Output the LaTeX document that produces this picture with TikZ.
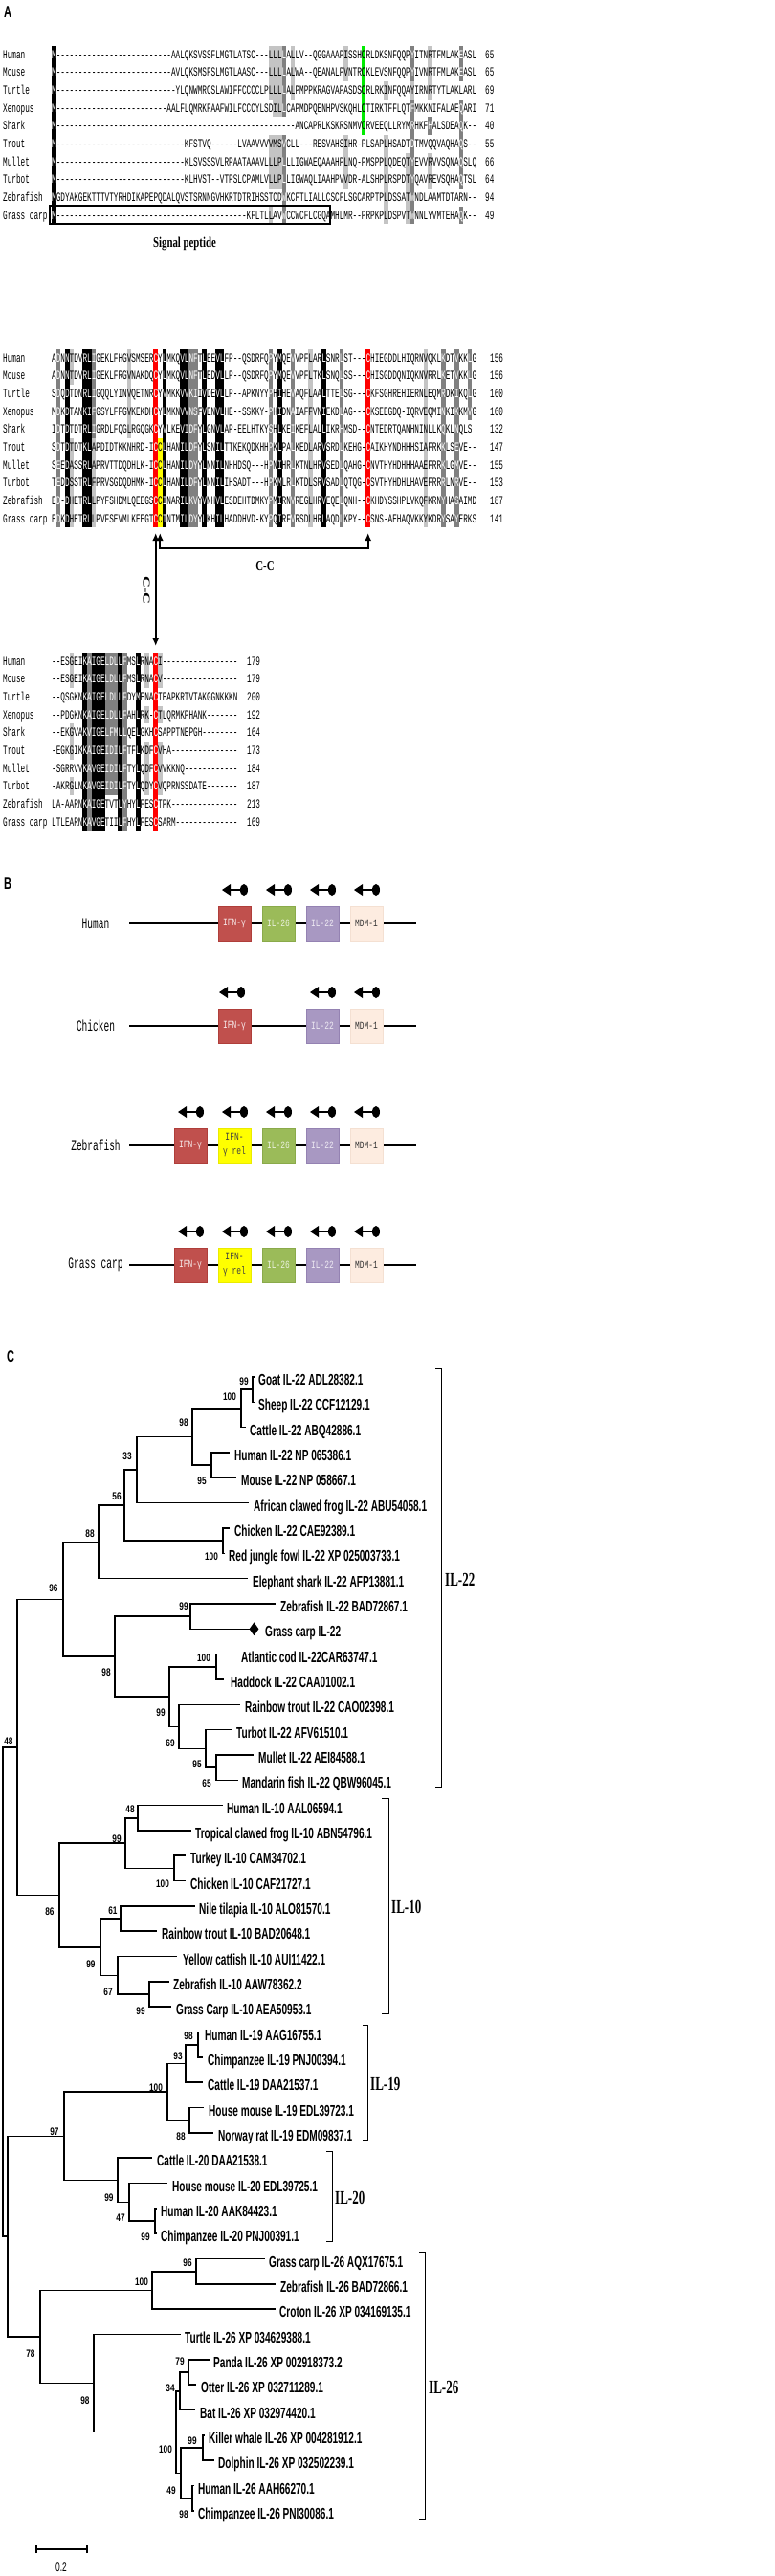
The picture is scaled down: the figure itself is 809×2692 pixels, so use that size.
\documentclass[tikz,border=0pt]{standalone}
\usepackage{fontspec}
\setmainfont{Liberation Serif}
\setsansfont{Liberation Sans}
\setmonofont{Liberation Mono}
\usepackage{graphicx}
\usetikzlibrary{arrows.meta,shapes.geometric}
\definecolor{dg}{RGB}{128,128,128}
\definecolor{lg}{RGB}{196,196,196}
\definecolor{ifnc}{RGB}{192,80,77}
\definecolor{ifnb}{RGB}{175,62,58}
\definecolor{ilsixc}{RGB}{155,187,89}
\definecolor{ilsixb}{RGB}{138,170,74}
\definecolor{iltwoc}{RGB}{168,152,194}
\definecolor{iltwob}{RGB}{148,130,178}
\definecolor{mdmc}{RGB}{253,236,224}
\definecolor{mdmb}{RGB}{244,224,210}
\definecolor{relc}{RGB}{255,255,0}
\definecolor{relb}{RGB}{235,235,0}
\definecolor{cred}{RGB}{255,0,0}
\definecolor{cgreen}{RGB}{0,235,0}
\ExplSyntaxOn
\cs_new:Npn \dd #1 { \prg_replicate:nn {#1} {-} }
\ExplSyntaxOff
\newcommand\sqz[2]{\scalebox{#1}[1]{#2}}
\def\yA{57}\def\yB{374}\def\yC{691}
\def\defrow#1#2#3{\expandafter\def\csname r#1#2\endcsname{#3}}
\newcommand\seqtxt[2]{\sqz{0.593}{\csname r#1#2\endcsname}}
% block A
\defrow{A}{1}{M\dd{26}AALQKSVSSFLMGTLATSC\dd{3}LLLLALLV\dd{2}QGGAAAPISSHCRLDKSNFQQPYITNRTFMLAKEASL}
\defrow{A}{2}{M\dd{26}AVLQKSMSFSLMGTLAASC\dd{3}LLLLALWA\dd{2}QEANALPVNTRCKLEVSNFQQPYIVNRTFMLAKEASL}
\defrow{A}{3}{M\dd{27}YLQNWMRCSLAWIFFCCCCLPLLLLALPMPPKRAGVAPASDSCRLRKINFQQAYIRNRTYTLAKLARL}
\defrow{A}{4}{M\dd{25}AALFLQMRKFAAFWILFCCCYLSDILLCAPMDPQENHPVSKQHLCTIRKTFFLQTFMKKNIFALAEQARI}
\defrow{A}{5}{M\dd{54}ANCAPRLKSKRSNMVCRVEEQLLRYMRHKFHALSDEAQK\dd{2}}
\defrow{A}{6}{M\dd{29}KFSTVQ\dd{6}LVAAVVVVMSVCLL\dd{3}RESVAHSIHR-PLSAPLHSADTDTMVQQVAQHAQS\dd{2}}
\defrow{A}{7}{M\dd{29}KLSVSSSVLRPAATAAAVLLLPLLLIGWAEQAAAHPLNQ-PMSPPLQDEQTYEVVRVVSQNAQSLQ}
\defrow{A}{8}{M\dd{29}KLHVST\dd{2}VTPSLCPAMLVLLPLLIGWAQLIAAHPVVDR-ALSHPLRSPDTYQAVREVSQHAQTSL}
\defrow{A}{9}{MGDYAKGEKTTTVTYRHDIKAPEPQDALQVSTSRNNGVHKRTDTRIHSSTCDWKCFTLIALLCSCFLSGCARPTPLDSSATWNDLAAMTDTARN\dd{2}}
\defrow{A}{10}{M\dd{43}KFLTLLAVWCCWCFLCGQAMHLMR\dd{2}PRPKPLDSPVTWNNLYVMTEHAQK\dd{2}}
% block B
\defrow{B}{1}{ADNNTDVRLIGEKLFHGVSMSERCYLMKQVLNFTLEEVLFP\dd{2}QSDRFQPYMQEVVPFLARLSNRLST\dd{3}CHIEGDDLHIQRNVQKLKDTVKKLG}
\defrow{B}{2}{ADNNTDVRLIGEKLFRGVNAKDQCYLMKQVLNFTLEDVLLP\dd{2}QSDRFQPYMQEVVPFLTKLSNQLSS\dd{3}CHISGDDQNIQKNVRRLKETVKKLG}
\defrow{B}{3}{SDQDTDNRLIGQQLYINVQETNRCYVMKKVVKIIVDEVLLP\dd{2}APKNYYPHIHEVAQFLAALTTELSG\dd{3}CKFSGHREHIERNLEQMRDKIKQLG}
\defrow{B}{4}{MDKDTANKIFGSYLFFGVKEKDHCYLMKNVVNSFVENVLHE\dd{2}SSKKY-PHIDNAIAFFVNIEKDLAG\dd{3}CKSEEGDQ-IQRVEQMINKIKKMVG}
\defrow{B}{5}{IDTDTDTRLIGRDLFQGLRGQGKCYVLKEVIDFYLGNVLAP-EELHTKYSHLKEIKEFLALLIKRHMSD\dd{2}CNTEDRTQANHNINLLKQKLNQLS}
\defrow{B}{6}{SDTDTDTKLAPDIDTKKNHRD-ICCLHANILDFYLSNILTTKEKQDKHHPKLPALKEDLARVSRDLKEHG-CAIKHYNDHHHSIAFRKKLSEVE\dd{2}}
\defrow{B}{7}{SEEDASSRLAPRVTTDQDHLK-ICCLHANILDYYLNNILNHHDSQ\dd{3}HPNIHRLKTNLHRVSEDLQAHG-CNVTHYHDHHHAAEFRRKLGMVE\dd{2}}
\defrow{B}{8}{TEDDSSTRLFPRVSGDQDHMK-ICCLHANILDFYLNNILIHSADT\dd{3}HPKMLRLKTDLSRVSADLQTQG-CSVTHYHDHLHAVEFRRRLNRVE\dd{2}}
\defrow{B}{9}{ED-DHETRLLPYFSHDMLQEEGSCCINARILKVYVNHVLESDEHTDMKYPMIRNVREGLHRVEQELQNH\dd{2}CKHDYSSHPLVKQFKRNYHASAIMD}
\defrow{B}{10}{EDKDHETRLLPVFSEVMLKEEGTCCINTMILDYYLKHILHADDHVD-KYPQIRFVRSDLHRLAQDLKPY\dd{2}CSNS-AEHAQVKKYKDRYSAYERKS}
% block C
\defrow{C}{1}{\dd{2}ESGEIKAIGELDLLFMSLRNACI\dd{17}}
\defrow{C}{2}{\dd{2}ESGEIKAIGELDLLFMSLRNACV\dd{17}}
\defrow{C}{3}{\dd{2}QSGKNKAIGELDLLFDYMENACTEAPKRTVTAKGGNKKKN}
\defrow{C}{4}{\dd{2}PDGKNKAIGELDLLFAHLRK-CTLQRMKPHANK\dd{7}}
\defrow{C}{5}{\dd{2}EKGVAKVIGELFMLLQELGKHCSAPPTNEPGH\dd{8}}
\defrow{C}{6}{-EGKGIKKAIGEIDILFTFLKDFCVHA\dd{15}}
\defrow{C}{7}{-SGRRVVKAVGEIDILFTYLQDFCVVKKNQ\dd{12}}
\defrow{C}{8}{-AKRGLNKAVGEIDILFTYLQDYCVQPRNSSDATE\dd{7}}
\defrow{C}{9}{LA-AARNKAIGETVTLYHYLFESCTPK\dd{15}}
\defrow{C}{10}{LTLEARNKAVGETIILFHYLFESCSARM\dd{14}}
% shading cell block: block, c1, c2, r1, r2, fill, text colour
\newcommand\shc[7]{%
  \pgfmathsetmacro\shya{\csname y#1\endcsname+(#4-1)*18.66-9.33}%
  \pgfmathsetmacro\shyb{\csname y#1\endcsname+(#5-1)*18.66+9.33}%
  \pgfmathsetmacro\shxa{54+4.625*#2}%
  \pgfmathsetmacro\shxb{54+4.625*(#3+1)}%
  \fill[#6] (\shxa,\shya) rectangle (\shxb,\shyb);
  \begin{scope}
    \clip (\shxa,\shya) rectangle (\shxb,\shyb);
    \foreach \rr in {#4,...,#5}{\node[seq,text=#7] at (54,{\csname y#1\endcsname+(\rr-1)*18.66+4.3}) {\seqtxt{#1}{\rr}};}
  \end{scope}}
\newcommand\leaf[4]{\coordinate (l#1) at (#2,{1439+26.33*(#1-1)});
  \node[leaf] (t#1) at (#3,{1439+26.33*(#1-1)+8.5}) {\sqz{0.63}{#4}};}
\newcommand\edge[2]{\draw[tree] (#1) |- (#2);}
\newcommand\boot[4]{\node[boot] (#1) at (#2,#3) {\sqz{0.75}{#4}};}
\begin{document}
\begin{tikzpicture}[x=1pt,y=-1pt,
  seq/.style={anchor=base west,inner sep=0pt,font=\ttfamily\fontsize{13}{13}\selectfont},
  leaf/.style={anchor=base west,inner sep=0pt,font=\sffamily\bfseries\fontsize{16}{16}\selectfont},
  boot/.style={inner sep=0pt,font=\sffamily\bfseries\fontsize{11}{11}\selectfont},
  tree/.style={line width=1.6pt,line cap=rect},
  brk/.style={line width=0.9pt},
  clade/.style={anchor=west,inner sep=0pt,font=\rmfamily\bfseries\fontsize{20}{20}\selectfont},
  plet/.style={inner sep=0pt,font=\sffamily\bfseries\fontsize{17}{17}\selectfont},
  glab/.style={inner sep=0pt,font=\ttfamily\fontsize{16}{16}\selectfont},
  gbox/.style={minimum width=34pt,minimum height=36pt,inner sep=0pt,line width=0.8pt,font=\ttfamily\fontsize{11}{15}\selectfont,align=center},
  gline/.style={line width=1.5pt},
  ccarr/.style={line width=1.8pt,{Latex[length=8pt,width=7pt]}-{Latex[length=8pt,width=7pt]}},
  orient/.pic={\fill (-13,0) -- (-4,-6) -- (-4,6) -- cycle;
    \draw[line width=2pt] (-5,0) -- (7,0);
    \fill (10,0) ellipse [x radius=4,y radius=6];}]
\useasboundingbox (0,0) rectangle (809,2692);
\fill[white] (0,0) rectangle (809,2692);
% ---------------- Panel A ----------------
\node[plet] (pA) at (8,13) {\sqz{0.65}{A}};
\foreach \b/\y in {A/57,B/374,C/691}{
  \foreach \rr in {1,...,10}{
    \node[seq] (row\b\rr) at (54,{\y+(\rr-1)*18.66+4.3}) {\seqtxt{\b}{\rr}};}
  \foreach \nm [count=\rr] in {Human,Mouse,Turtle,Xenopus,Shark,Trout,Mullet,Turbot,Zebrafish,Grass carp}{
    \node[seq] (nm\b\rr) at (3,{\y+(\rr-1)*18.66+4.3}) {\sqz{0.593}{\nm}};}
}
\foreach \n [count=\rr] in {65,65,69,71,40,55,66,64,94,49}
  \node[seq] (numA\rr) at (507,{57+(\rr-1)*18.66+4.3}) {\sqz{0.593}{\n}};
\foreach \n [count=\rr] in {156,156,160,160,132,147,155,153,187,141}
  \node[seq] (numB\rr) at (512,{374+(\rr-1)*18.66+4.3}) {\sqz{0.593}{\n}};
\foreach \n [count=\rr] in {179,179,200,192,164,173,184,187,213,169}
  \node[seq] (numC\rr) at (258,{691+(\rr-1)*18.66+4.3}) {\sqz{0.593}{\n}};
% shading block A
\shc{A}{0}{0}{1}{10}{black}{white}
\shc{A}{49}{51}{1}{3}{lg}{black}
\shc{A}{50}{51}{4}{4}{lg}{black}
\shc{A}{49}{51}{6}{8}{lg}{black}
\shc{A}{49}{49}{10}{10}{lg}{black}
\shc{A}{52}{52}{1}{4}{dg}{white}
\shc{A}{52}{52}{6}{10}{dg}{white}
\shc{A}{54}{54}{1}{3}{lg}{black}
\shc{A}{66}{66}{1}{2}{lg}{black}
\shc{A}{66}{66}{6}{8}{lg}{black}
\shc{A}{70}{70}{1}{5}{cgreen}{black}
\shc{A}{75}{75}{3}{3}{lg}{black}
\shc{A}{75}{75}{6}{10}{lg}{black}
\shc{A}{80}{80}{7}{10}{lg}{black}
\shc{A}{81}{81}{1}{2}{dg}{white}
\shc{A}{81}{81}{3}{3}{lg}{black}
\shc{A}{81}{81}{4}{10}{dg}{white}
\shc{A}{85}{85}{1}{3}{lg}{black}
\shc{A}{85}{85}{5}{5}{dg}{white}
\shc{A}{85}{85}{7}{8}{lg}{black}
\shc{A}{92}{92}{1}{2}{dg}{white}
\shc{A}{92}{92}{4}{8}{dg}{white}
\shc{A}{92}{92}{10}{10}{dg}{white}
% shading block B
\shc{B}{1}{1}{1}{10}{dg}{white}
\shc{B}{3}{3}{1}{10}{black}{white}
\shc{B}{4}{4}{1}{2}{lg}{black}
\shc{B}{4}{4}{6}{10}{lg}{black}
\shc{B}{7}{8}{1}{10}{black}{white}
\shc{B}{9}{9}{1}{5}{dg}{white}
\shc{B}{9}{9}{6}{10}{lg}{black}
\shc{B}{17}{17}{1}{5}{lg}{black}
\shc{B}{23}{23}{1}{10}{cred}{white}
\shc{B}{24}{24}{6}{10}{relc}{black}
\shc{B}{25}{25}{1}{10}{black}{white}
\shc{B}{29}{30}{1}{10}{black}{white}
\shc{B}{31}{32}{1}{10}{dg}{white}
\shc{B}{34}{34}{1}{10}{black}{white}
\shc{B}{37}{38}{1}{10}{black}{white}
\shc{B}{49}{49}{1}{10}{dg}{white}
\shc{B}{51}{51}{1}{10}{black}{white}
\shc{B}{54}{54}{1}{10}{dg}{white}
\shc{B}{58}{58}{1}{10}{lg}{black}
\shc{B}{61}{61}{1}{10}{black}{white}
\shc{B}{65}{65}{1}{10}{dg}{white}
\shc{B}{71}{71}{1}{10}{cred}{white}
\shc{B}{84}{84}{1}{10}{lg}{black}
\shc{B}{88}{88}{1}{10}{dg}{white}
\shc{B}{91}{91}{1}{10}{dg}{white}
\shc{B}{94}{94}{1}{4}{dg}{white}
% shading block C
\shc{C}{4}{4}{1}{2}{lg}{black}
\shc{C}{4}{4}{5}{6}{lg}{black}
\shc{C}{4}{4}{8}{8}{lg}{black}
\shc{C}{7}{7}{1}{10}{black}{white}
\shc{C}{8}{8}{1}{10}{dg}{white}
\shc{C}{9}{11}{1}{10}{black}{white}
\shc{C}{12}{14}{1}{8}{dg}{white}
\shc{C}{15}{15}{1}{10}{black}{white}
\shc{C}{16}{16}{1}{10}{dg}{white}
\shc{C}{19}{19}{1}{10}{black}{white}
\shc{C}{21}{21}{1}{2}{lg}{black}
\shc{C}{21}{21}{4}{4}{lg}{black}
\shc{C}{21}{21}{6}{8}{lg}{black}
\shc{C}{23}{23}{1}{10}{cred}{white}
\shc{C}{24}{24}{1}{2}{lg}{black}
\shc{C}{24}{24}{4}{4}{lg}{black}
\shc{C}{24}{24}{6}{8}{lg}{black}
% signal peptide
\coordinate (spa) at (52,215);
\coordinate (spb) at (345,234);
\draw[line width=1.2pt] (spa) rectangle (spb);
\node[inner sep=0pt,font=\rmfamily\bfseries\fontsize{15}{15}\selectfont] (splab) at (193,255) {\sqz{0.72}{Signal peptide}};
% disulfide connectors
\coordinate (cca) at (162.7,557);
\coordinate (ccab) at (162.7,675);
\coordinate (ccb) at (167.3,557);
\coordinate (ccc) at (384.7,557);
\coordinate (ccm) at (167.3,573);
\draw[ccarr] (cca) -- (ccab);
\draw[ccarr] (ccb) |- (ccm -| ccc) -- (ccc);
\node[inner sep=0pt,font=\rmfamily\bfseries\fontsize{15}{15}\selectfont] (cclab) at (277,592) {\sqz{0.72}{C-C}};
\node[inner sep=0pt,rotate=-90,font=\rmfamily\bfseries\fontsize{15}{15}\selectfont] (cclabv) at (153,617) {\scalebox{1.1}[0.7]{C-C}};
% ---------------- Panel B ----------------
\node[plet] (pB) at (8,924) {\sqz{0.65}{B}};
\foreach \sp/\yy in {Human/965,Chicken/1072,Zebrafish/1197,Grass carp/1322}{
  \coordinate (gl\yy) at (135,\yy);
  \coordinate (gr\yy) at (435,\yy);
  \draw[gline] (gl\yy) -- (gr\yy);
  \node[glab] (sp\yy) at (100,\yy) {\sqz{0.594}{\sp}};
}
% Human
\node[gbox,fill=ifnc,draw=ifnb,text=white!88!ifnc] (hifn) at (245,965) {\sqz{0.72}{IFN-γ}};
\node[gbox,fill=ilsixc,draw=ilsixb,text=white!80!ilsixc] (hil26) at (291,965) {\sqz{0.72}{IL-26}};
\node[gbox,fill=iltwoc,draw=iltwob,text=white!80!iltwoc] (hil22) at (337,965) {\sqz{0.72}{IL-22}};
\node[gbox,fill=mdmc,draw=mdmb,text=black!80] (hmdm) at (383,965) {\sqz{0.72}{MDM-1}};
\foreach \xx in {245,291,337,383} \pic at (\xx,930) {orient};
% Chicken
\node[gbox,fill=ifnc,draw=ifnb,text=white!88!ifnc] (cifn) at (245,1072) {\sqz{0.72}{IFN-γ}};
\node[gbox,fill=iltwoc,draw=iltwob,text=white!80!iltwoc] (cil22) at (337,1072) {\sqz{0.72}{IL-22}};
\node[gbox,fill=mdmc,draw=mdmb,text=black!80] (cmdm) at (383,1072) {\sqz{0.72}{MDM-1}};
\foreach \xx in {242,337,383} \pic at (\xx,1037) {orient};
% Fish
\foreach \yy/\tag in {1197/z,1322/g}{
  \node[gbox,fill=ifnc,draw=ifnb,text=white!88!ifnc] (\tag ifn) at (199,\yy) {\sqz{0.72}{IFN-γ}};
  \node[gbox,fill=relc,draw=relb,text=black!75] (\tag rel) at (245,\yy) {\sqz{0.72}{IFN-}\\\sqz{0.72}{γ rel}};
  \node[gbox,fill=ilsixc,draw=ilsixb,text=white!80!ilsixc] (\tag il26) at (291,\yy) {\sqz{0.72}{IL-26}};
  \node[gbox,fill=iltwoc,draw=iltwob,text=white!80!iltwoc] (\tag il22) at (337,\yy) {\sqz{0.72}{IL-22}};
  \node[gbox,fill=mdmc,draw=mdmb,text=black!80] (\tag mdm) at (383,\yy) {\sqz{0.72}{MDM-1}};
  \foreach \xx in {199,245,291,337,383} \pic at (\xx,\yy-35) {orient};
}
% ---------------- Panel C ----------------
\node[plet] (pC) at (11,1418) {\sqz{0.65}{C}};
\leaf{1}{265}{270}{Goat IL-22 ADL28382.1}
\leaf{2}{265}{270}{Sheep IL-22 CCF12129.1}
\leaf{3}{256}{261}{Cattle IL-22 ABQ42886.1}
\leaf{4}{239}{245}{Human IL-22 NP 065386.1}
\leaf{5}{246}{252}{Mouse IL-22 NP 058667.1}
\leaf{6}{259}{265}{African clawed frog IL-22 ABU54058.1}
\leaf{7}{239}{245}{Chicken IL-22 CAE92389.1}
\leaf{8}{234}{239}{Red jungle fowl IL-22 XP 025003733.1}
\leaf{9}{258}{264}{Elephant shark IL-22 AFP13881.1}
\leaf{10}{287}{293}{Zebrafish IL-22 BAD72867.1}
\leaf{11}{260}{277}{Grass carp IL-22}
\leaf{12}{246}{252}{Atlantic cod IL-22CAR63747.1}
\leaf{13}{233}{241}{Haddock IL-22 CAA01002.1}
\leaf{14}{250}{256}{Rainbow trout IL-22 CAO02398.1}
\leaf{15}{241}{247}{Turbot IL-22 AFV61510.1}
\leaf{16}{264}{270}{Mullet IL-22 AEI84588.1}
\leaf{17}{248}{253}{Mandarin fish IL-22 QBW96045.1}
\leaf{18}{232}{237}{Human IL-10 AAL06594.1}
\leaf{19}{199}{204}{Tropical clawed frog IL-10 ABN54796.1}
\leaf{20}{193}{199}{Turkey IL-10 CAM34702.1}
\leaf{21}{193}{199}{Chicken IL-10 CAF21727.1}
\leaf{22}{203}{208}{Nile tilapia IL-10 ALO81570.1}
\leaf{23}{163}{169}{Rainbow trout IL-10 BAD20648.1}
\leaf{24}{184}{191}{Yellow catfish IL-10 AUI11422.1}
\leaf{25}{176}{181}{Zebrafish IL-10 AAW78362.2}
\leaf{26}{178}{184}{Grass Carp IL-10 AEA50953.1}
\leaf{27}{209}{214}{Human IL-19 AAG16755.1}
\leaf{28}{211}{217}{Chimpanzee IL-19 PNJ00394.1}
\leaf{29}{211}{217}{Cattle IL-19 DAA21537.1}
\leaf{30}{212}{218}{House mouse IL-19 EDL39723.1}
\leaf{31}{222}{228}{Norway rat IL-19 EDM09837.1}
\leaf{32}{158}{164}{Cattle IL-20 DAA21538.1}
\leaf{33}{174}{180}{House mouse IL-20 EDL39725.1}
\leaf{34}{163}{168}{Human IL-20 AAK84423.1}
\leaf{35}{163}{168}{Chimpanzee IL-20 PNJ00391.1}
\leaf{36}{276}{281}{Grass carp IL-26 AQX17675.1}
\leaf{37}{287}{293}{Zebrafish IL-26 BAD72866.1}
\leaf{38}{287}{292}{Croton IL-26 XP 034169135.1}
\leaf{39}{188}{193}{Turtle IL-26 XP 034629388.1}
\leaf{40}{218}{223}{Panda IL-26 XP 002918373.2}
\leaf{41}{204}{210}{Otter IL-26 XP 032711289.1}
\leaf{42}{203}{209}{Bat IL-26 XP 032974420.1}
\leaf{43}{213}{218}{Killer whale IL-26 XP 004281912.1}
\leaf{44}{223}{228}{Dolphin IL-26 XP 032502239.1}
\leaf{45}{202}{207}{Human IL-26 AAH66270.1}
\leaf{46}{202}{207}{Chimpanzee IL-26 PNI30086.1}
\node[diamond,fill=black,inner sep=0pt,minimum width=10pt,minimum height=14pt] (gcmark) at (265.5,1702.3) {};
% internal nodes
\coordinate (gs) at (264,1452.2);
\coordinate (n100a) at (252,1471.9);
\coordinate (n95a) at (221,1531.2);
\coordinate (n98a) at (201,1501.5);
\coordinate (n33) at (143,1536.1);
\coordinate (n100b) at (233,1610.2);
\coordinate (n56) at (130,1573.1);
\coordinate (n88a) at (103,1611.4);
\coordinate (n99a) at (199,1689.2);
\coordinate (n100c) at (226,1741.8);
\coordinate (n65) at (226,1847.2);
\coordinate (n95b) at (215,1827.4);
\coordinate (n69) at (187,1804.4);
\coordinate (n99b) at (177,1773.1);
\coordinate (n98b) at (120,1731.2);
\coordinate (n96a) at (66,1671.3);
\coordinate (n48a) at (144,1899.8);
\coordinate (n100d) at (182,1952.5);
\coordinate (n99c) at (131,1926.2);
\coordinate (n61) at (126,2005.1);
\coordinate (n99d) at (156,2084.1);
\coordinate (n67) at (123,2064.4);
\coordinate (n99e) at (105,2034.8);
\coordinate (n86) at (62,1980.5);
\coordinate (n48b) at (18,1825.9);
\coordinate (n98c) at (207,2136.8);
\coordinate (n93) at (194,2156.5);
\coordinate (n88c) at (198,2215.8);
\coordinate (n100e) at (175,2186.2);
\coordinate (n99g) at (162,2321.1);
\coordinate (n47) at (135,2301.4);
\coordinate (n99f) at (123,2278.3);
\coordinate (n97) at (67,2232.3);
\coordinate (n96c) at (205,2373.8);
\coordinate (n100f) at (159,2393.5);
\coordinate (n79) at (197,2479.1);
\coordinate (n34) at (188,2498.8);
\coordinate (n99h) at (212,2558.1);
\coordinate (n98e) at (201,2610.7);
\coordinate (n49) at (189,2584.4);
\coordinate (n100g) at (184,2541.6);
\coordinate (n98d) at (98,2490.6);
\coordinate (n78) at (42,2442.1);
\coordinate (nX) at (8,2337.2);
\coordinate (root) at (3,2081.6);
\edge{gs}{l1}\edge{gs}{l2}
\edge{n100a}{gs}\edge{n100a}{l3}
\edge{n95a}{l4}\edge{n95a}{l5}
\edge{n98a}{n100a}\edge{n98a}{n95a}
\edge{n33}{n98a}\edge{n33}{l6}
\edge{n100b}{l7}\edge{n100b}{l8}
\edge{n56}{n33}\edge{n56}{n100b}
\edge{n88a}{n56}\edge{n88a}{l9}
\edge{n99a}{l10}\edge{n99a}{l11}
\edge{n100c}{l12}\edge{n100c}{l13}
\edge{n65}{l16}\edge{n65}{l17}
\edge{n95b}{l15}\edge{n95b}{n65}
\edge{n69}{l14}\edge{n69}{n95b}
\edge{n99b}{n100c}\edge{n99b}{n69}
\edge{n98b}{n99a}\edge{n98b}{n99b}
\edge{n96a}{n88a}\edge{n96a}{n98b}
\edge{n48a}{l18}\edge{n48a}{l19}
\edge{n100d}{l20}\edge{n100d}{l21}
\edge{n99c}{n48a}\edge{n99c}{n100d}
\edge{n61}{l22}\edge{n61}{l23}
\edge{n99d}{l25}\edge{n99d}{l26}
\edge{n67}{l24}\edge{n67}{n99d}
\edge{n99e}{n61}\edge{n99e}{n67}
\edge{n86}{n99c}\edge{n86}{n99e}
\edge{n48b}{n96a}\edge{n48b}{n86}
\edge{n98c}{l27}\edge{n98c}{l28}
\edge{n93}{n98c}\edge{n93}{l29}
\edge{n88c}{l30}\edge{n88c}{l31}
\edge{n100e}{n93}\edge{n100e}{n88c}
\edge{n99g}{l34}\edge{n99g}{l35}
\edge{n47}{l33}\edge{n47}{n99g}
\edge{n99f}{l32}\edge{n99f}{n47}
\edge{n97}{n100e}\edge{n97}{n99f}
\edge{n96c}{l36}\edge{n96c}{l37}
\edge{n100f}{n96c}\edge{n100f}{l38}
\edge{n79}{l40}\edge{n79}{l41}
\edge{n34}{n79}\edge{n34}{l42}
\edge{n99h}{l43}\edge{n99h}{l44}
\edge{n98e}{l45}\edge{n98e}{l46}
\edge{n49}{n99h}\edge{n49}{n98e}
\edge{n100g}{n34}\edge{n100g}{n49}
\edge{n98d}{l39}\edge{n98d}{n100g}
\edge{n78}{n100f}\edge{n78}{n98d}
\edge{nX}{n97}\edge{nX}{n78}
\edge{root}{n48b}\edge{root}{nX}
% bootstrap values
\boot{b1}{255}{1444}{99}
\boot{b2}{240}{1460}{100}
\boot{b3}{211}{1548}{95}
\boot{b4}{192}{1487}{98}
\boot{b5}{133}{1522}{33}
\boot{b6}{221}{1627}{100}
\boot{b7}{122}{1564}{56}
\boot{b8}{94}{1603}{88}
\boot{b9}{192}{1679}{99}
\boot{b10}{213}{1733}{100}
\boot{b11}{216}{1864}{65}
\boot{b12}{206}{1844}{95}
\boot{b13}{178}{1822}{69}
\boot{b14}{168}{1790}{99}
\boot{b15}{111}{1748}{98}
\boot{b16}{56}{1660}{96}
\boot{b17}{136}{1891}{48}
\boot{b18}{170}{1969}{100}
\boot{b19}{122}{1922}{99}
\boot{b20}{118}{1997}{61}
\boot{b21}{147}{2102}{99}
\boot{b22}{113}{2082}{67}
\boot{b23}{95}{2053}{99}
\boot{b24}{52}{1998}{86}
\boot{b25}{9}{1820}{48}
\boot{b26}{197}{2128}{98}
\boot{b27}{186}{2149}{93}
\boot{b28}{189}{2233}{88}
\boot{b29}{163}{2182}{100}
\boot{b30}{152}{2338}{99}
\boot{b31}{126}{2318}{47}
\boot{b32}{114}{2297}{99}
\boot{b33}{57}{2228}{97}
\boot{b34}{196}{2365}{96}
\boot{b35}{148}{2385}{100}
\boot{b36}{188}{2468}{79}
\boot{b37}{178}{2496}{34}
\boot{b38}{201}{2551}{99}
\boot{b39}{192}{2628}{98}
\boot{b40}{179}{2603}{49}
\boot{b41}{173}{2560}{100}
\boot{b42}{89}{2509}{98}
\boot{b43}{32}{2460}{78}
% clade brackets
\coordinate (k22a) at (455,1430); \coordinate (k22b) at (455,1867);
\draw[brk] (k22a) -- ++(6,0) |- (k22b);
\node[clade] (c22) at (465,1651) {\sqz{0.65}{IL-22}};
\coordinate (k10a) at (399,1879); \coordinate (k10b) at (399,2104);
\draw[brk] (k10a) -- ++(7,0) |- (k10b);
\node[clade] (c10) at (409,1993) {\sqz{0.65}{IL-10}};
\coordinate (k19a) at (379,2116); \coordinate (k19b) at (379,2236);
\draw[brk] (k19a) -- ++(5,0) |- (k19b);
\node[clade] (c19) at (387,2178) {\sqz{0.65}{IL-19}};
\coordinate (k20a) at (341,2248); \coordinate (k20b) at (341,2342);
\draw[brk] (k20a) -- ++(6,0) |- (k20b);
\node[clade] (c20) at (350,2297) {\sqz{0.65}{IL-20}};
\coordinate (k26a) at (438,2353); \coordinate (k26b) at (438,2632);
\draw[brk] (k26a) -- ++(6,0) |- (k26b);
\node[clade] (c26) at (448,2495) {\sqz{0.65}{IL-26}};
% scale bar
\coordinate (sba) at (38,2664); \coordinate (sbb) at (91,2664);
\draw[line width=1.5pt] (sba) -- (sbb);
\draw[line width=1.2pt] ([yshift=-4pt]sba) -- ([yshift=4pt]sba);
\draw[line width=1.2pt] ([yshift=-4pt]sbb) -- ([yshift=4pt]sbb);
\node[inner sep=0pt,font=\sffamily\fontsize{14}{14}\selectfont] (sblab) at (64,2683) {\sqz{0.6}{0.2}};
\end{tikzpicture}
\end{document}
